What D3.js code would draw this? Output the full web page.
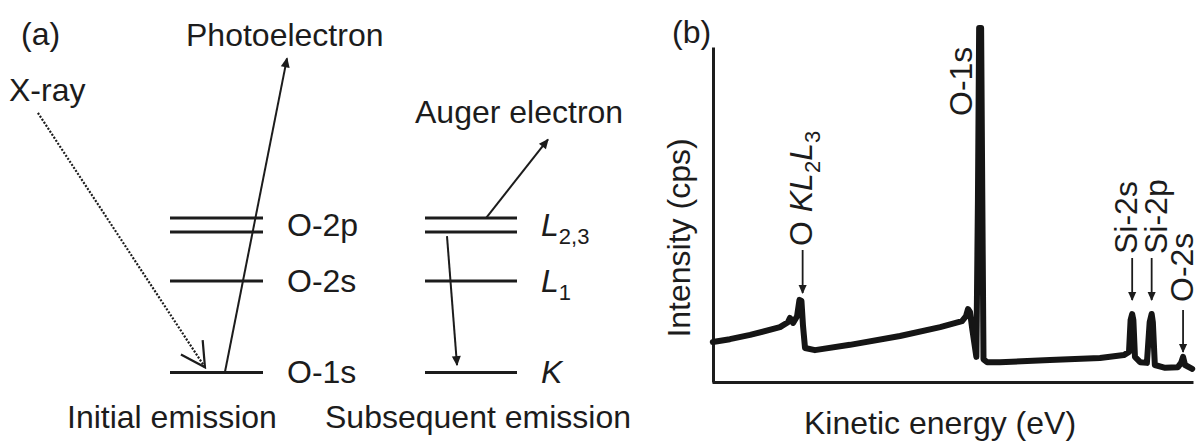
<!DOCTYPE html>
<html>
<head>
<meta charset="utf-8">
<script src="https://cdn.jsdelivr.net/npm/d3@7"></script>
<style>
  body { margin: 0; background: #fff; }
  text { font-family: "Liberation Sans", Arial, Helvetica, sans-serif; fill: #1c1c1c; }
</style>
</head>
<body>
<svg id="chart" width="1203" height="444"></svg>
<script>

    //=========================================================================
    // Data
    //=========================================================================

    // (a) energy level schematic, level height in schematic units (1s = 0)
    var initialLevels = ["O-1s", "O-2s", "O-2p"];
    var subsequentLevels = ["K", "L1", "L2,3"];
    var levelHeights = [0, 0.62, 1];
    var doubleLevel = [false, false, true];

    // (b) survey spectrum: kinetic energy (eV) vs intensity (arb.)
    var kineticEnergy = [282, 325, 376, 451, 471, 476, 484, 494, 500, 505, 509, 514, 539, 627, 753, 854,
                         909, 919, 924, 929, 935, 945, 949, 952, 957, 960, 963, 972, 1004, 1130, 1256, 1316,
                         1329, 1333, 1337, 1340, 1344, 1357, 1374, 1381, 1386, 1389, 1394, 1420, 1452, 1460,
                         1465, 1470, 1488];
    var intensity = [11.3, 12.1, 13.3, 15.5, 16.9, 18.1, 16.7, 18.6, 23.2, 22.9, 15.8, 9.6, 9.0, 10.5, 13.0, 15.5,
                     17.2, 18.6, 20.6, 19.8, 14.7, 7.1, 51.4, 100, 100, 51.4, 6.4, 5.6, 5.6, 6.2, 6.8, 7.6,
                     8.5, 17.5, 19.2, 17.5, 7.1, 5.6, 5.4, 16.9, 19.2, 16.9, 4.8, 4.0, 4.2, 5.4,
                     7.1, 4.8, 3.7];

    // peak annotations
    var peakNames = ["O KL2L3", "O-1s", "Si-2s", "Si-2p", "O-2s"];
    var peakEnergies = [508, 906, 1337, 1386, 1465];
    var peakArrows = [true, false, true, true, true];

    //=========================================================================
    // Setup
    //=========================================================================
    var fontSize = 32;
    var subSize = 22;

    var svg = d3.select("#chart");

    svg.append("defs").call(function(defs){
      defs.append("marker")
        .attr("id", "head")
        .attr("viewBox", "0 0 10 10")
        .attr("refX", 9).attr("refY", 5)
        .attr("markerUnits", "userSpaceOnUse")
        .attr("markerWidth", 12).attr("markerHeight", 10)
        .attr("orient", "auto")
        .append("path")
        .attr("d", "M0,0.5 L10,5 L0,9.5 Z")
        .attr("fill", "#1c1c1c");
      defs.append("marker")
        .attr("id", "headSmall")
        .attr("viewBox", "0 0 10 10")
        .attr("refX", 9).attr("refY", 5)
        .attr("markerUnits", "userSpaceOnUse")
        .attr("markerWidth", 11).attr("markerHeight", 9)
        .attr("orient", "auto")
        .append("path")
        .attr("d", "M0,0.5 L10,5 L0,9.5 Z")
        .attr("fill", "#1c1c1c");
      defs.append("marker")
        .attr("id", "openHead")
        .attr("viewBox", "0 0 30 30")
        .attr("refX", 28).attr("refY", 15)
        .attr("markerUnits", "userSpaceOnUse")
        .attr("markerWidth", 30).attr("markerHeight", 30)
        .attr("orient", "auto")
        .append("path")
        .attr("d", "M4,2 L28,15 L4,28")
        .attr("fill", "none")
        .attr("stroke", "#1c1c1c")
        .attr("stroke-width", 2.2);
    });

    // rich text: [text, "n" | "i" | "sub"]
    function parseLabel(name){
      if (name == "O KL2L3") return [["O ", "n"], ["K", "i"], ["L", "i"], ["2", "sub"], ["L", "i"], ["3", "sub"]];
      if (name == "L2,3") return [["L", "i"], ["2,3", "sub"]];
      if (name == "L1") return [["L", "i"], ["1", "sub"]];
      if (name == "K") return [["K", "i"]];
      return [[name, "n"]];
    }

    function fillRich(textSel, name){
      var shift = 0;
      parseLabel(name).forEach(function(p){
        var t = textSel.append("tspan").text(p[0]);
        if (p[1] == "i") t.attr("font-style", "italic");
        if (p[1] == "sub") {
          t.attr("font-size", subSize).attr("dy", 8 - shift);
          shift = 8;
        } else if (shift) {
          t.attr("dy", -shift);
          shift = 0;
        }
      });
    }

    //=========================================================================
    // Panel (a)
    //=========================================================================
    var lvY = d3.scaleLinear().domain([0, 1]).range([372.5, 225]);
    var xLeft = d3.scaleLinear().domain([0, 1]).range([170, 263]);
    var xRight = d3.scaleLinear().domain([0, 1]).range([425, 517]);
    var gapDouble = 7;

    var gA = svg.append("g");

    function drawLevels(xs, names){
      levelHeights.forEach(function(h, i){
        var offs = doubleLevel[i] ? [-gapDouble, gapDouble] : [0];
        offs.forEach(function(o){
          gA.append("line")
            .attr("x1", xs(0)).attr("x2", xs(1))
            .attr("y1", lvY(h) + o).attr("y2", lvY(h) + o)
            .attr("stroke", "#1c1c1c").attr("stroke-width", 3);
        });
        var t = gA.append("text")
          .attr("x", xs(1) + 24)
          .attr("y", lvY(h) + 10.5)
          .attr("font-size", fontSize);
        fillRich(t, names[i]);
      });
    }
    drawLevels(xLeft, initialLevels);
    drawLevels(xRight, subsequentLevels);

    // arrows: [scale, x0, level0, x1, level1, marker, dashed]
    var arrowsA = [
      [xLeft, -1.42, 1.76, 0.376, 0.035, "openHead", true],
      [xLeft, 0.59, 0, 1.258, 2.13, "head", false],
      [xRight, 0.663, 1.047, 1.337, 1.58, "head", false],
      [xRight, 0.239, 0.925, 0.348, 0.05, "head", false]
    ];
    arrowsA.forEach(function(a){
      gA.append("line")
        .attr("x1", a[0](a[1])).attr("y1", lvY(a[2]))
        .attr("x2", a[0](a[3])).attr("y2", lvY(a[4]))
        .attr("stroke", "#1c1c1c")
        .attr("stroke-width", a[6] ? 2.2 : 2)
        .attr("stroke-dasharray", a[6] ? "2,1.6" : null)
        .attr("marker-end", "url(#" + a[5] + ")");
    });

    var textsA = [
      ["(a)", 21, 45],
      ["Photoelectron", 186, 46],
      ["X-ray", 9, 101],
      ["Auger electron", 415, 123],
      ["Initial emission", 67, 428],
      ["Subsequent emission", 325, 428]
    ];
    gA.selectAll("text.lab")
      .data(textsA)
      .enter()
      .append("text")
      .attr("class", "lab")
      .attr("x", function(d){ return d[1]; })
      .attr("y", function(d){ return d[2]; })
      .attr("font-size", fontSize)
      .text(function(d){ return d[0]; });

    //=========================================================================
    // Panel (b)
    //=========================================================================
    var x = d3.scaleLinear().domain([280, 1490]).range([712, 1193]);
    var y = d3.scaleLinear().domain([0, 100]).range([382, 28]);
    var yAxisScale = d3.scaleLinear().domain([0, y.invert(47)]).range([y(0), 47]);

    var gB = svg.append("g");

    gB.append("g")
      .attr("transform", "translate(0," + y(0) + ")")
      .call(d3.axisBottom(x).tickValues([]).tickSizeOuter(0))
      .select(".domain").attr("stroke", "#1c1c1c").attr("stroke-width", 3);

    gB.append("g")
      .attr("transform", "translate(" + (x.range()[0] + 1) + ",0)")
      .call(d3.axisLeft(yAxisScale).tickValues([]).tickSizeOuter(0))
      .select(".domain").attr("stroke", "#1c1c1c").attr("stroke-width", 3);

    var spectrum = kineticEnergy.map(function(e, i){ return [e, intensity[i]]; });

    gB.append("path")
      .datum(spectrum)
      .attr("fill", "none")
      .attr("stroke", "#151515")
      .attr("stroke-width", 6)
      .attr("stroke-linejoin", "round")
      .attr("stroke-linecap", "round")
      .attr("d", d3.line()
        .x(function(d){ return x(d[0]); })
        .y(function(d){ return y(d[1]); }));

    // annotation layout: [arrow tail y, arrow tip y, label start y, label centre dx]
    var annLayout = [[250, 293, 246, -2], [0, 0, 116, 0], [258, 300, 254, -6], [258, 300, 254, 4], [310, 352, 302, -1]];

    peakNames.forEach(function(name, i){
      var px = x(peakEnergies[i]);
      var L = annLayout[i];
      if (peakArrows[i]) {
        gB.append("line")
          .attr("x1", px).attr("x2", px)
          .attr("y1", L[0]).attr("y2", L[1])
          .attr("stroke", "#1c1c1c").attr("stroke-width", 1.8)
          .attr("marker-end", "url(#headSmall)");
      }
      var t = gB.append("text")
        .attr("transform", "translate(" + (px + L[3] + 11) + "," + L[2] + ") rotate(-90)")
        .attr("font-size", fontSize);
      fillRich(t, name);
    });

    gB.append("text")
      .attr("transform", "translate(690,238) rotate(-90)")
      .attr("text-anchor", "middle")
      .attr("font-size", fontSize)
      .text("Intensity (cps)");

    gB.append("text")
      .attr("x", 940).attr("y", 434)
      .attr("text-anchor", "middle")
      .attr("font-size", fontSize)
      .text("Kinetic energy (eV)");

    gB.append("text")
      .attr("x", 672).attr("y", 43)
      .attr("font-size", fontSize)
      .text("(b)");

</script>
</body>
</html>
